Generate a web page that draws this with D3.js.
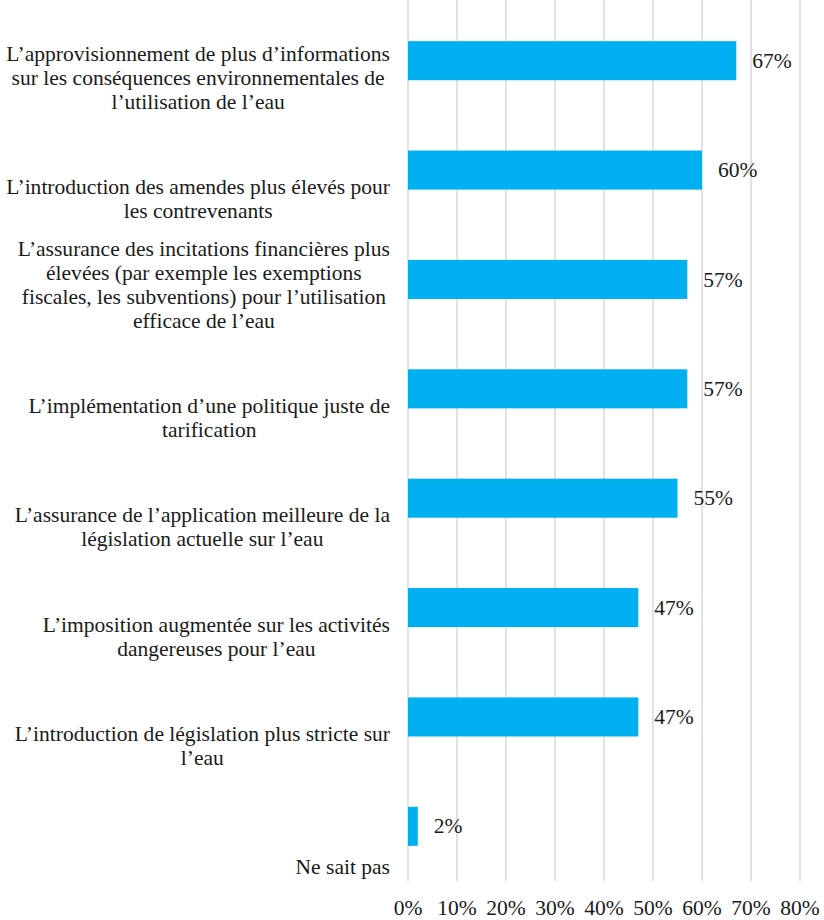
<!DOCTYPE html>
<html>
<head>
<meta charset="utf-8">
<script src="https://cdn.jsdelivr.net/npm/d3@7"></script>
</head>
<body style="margin:0">
<script>
// Categories (each as wrapped lines) and their shares
const categories = [
  ["L’approvisionnement de plus d’informations", "sur les conséquences environnementales de", "l’utilisation de l’eau"],
  ["L’introduction des amendes plus élevés pour", "les contrevenants"],
  ["L’assurance des incitations financières plus", "élevées (par exemple les exemptions", "fiscales, les subventions) pour l’utilisation", "efficace de l’eau"],
  ["L’implémentation d’une politique juste de", "tarification"],
  ["L’assurance de l’application meilleure de la", "législation actuelle sur l’eau"],
  ["L’imposition augmentée sur les activités", "dangereuses pour l’eau"],
  ["L’introduction de législation plus stricte sur", "l’eau"],
  ["Ne sait pas"]
];
const values = [67, 60, 57, 57, 55, 47, 47, 2];
const tickValues = [0, 10, 20, 30, 40, 50, 60, 70, 80];

const FONT = '"Times New Roman"';
const W = 824, H = 920;
const margin = { top: 6, right: 24, bottom: 39, left: 408 };

const svg = d3.select("body").append("svg")
  .attr("width", W).attr("height", H)
  .style("display", "block");

// size the type so the first category line spans about 384px
const probe = svg.append("text").style("font-family", FONT).attr("font-size", 20).text(categories[0][0]);
const FS = Math.max(18, Math.min(22, 20 * 384 / probe.node().getComputedTextLength()));
probe.remove();

const x = d3.scaleLinear().domain([0, 80]).range([margin.left, W - margin.right]);
const y = d3.scaleBand()
  .domain(d3.range(categories.length))
  .range([margin.top, H - margin.bottom])
  .paddingInner(0.643).paddingOuter(0.3215);

// places a text line; baseline offset gives a visual vertical centre at cy
function addText(parent, str, cy) {
  return parent.append("text")
    .style("font-family", FONT)
    .attr("font-size", FS)
    .attr("fill", "#1a1a1a")
    .attr("y", cy + FS * 0.33)
    .text(str);
}

// vertical gridlines
svg.append("g")
  .selectAll("line")
  .data(tickValues)
  .join("line")
  .attr("x1", d => x(d)).attr("x2", d => x(d))
  .attr("y1", 0).attr("y2", H - margin.bottom)
  .attr("stroke", "#d9d9d9").attr("stroke-width", 1.5);

// tick labels, centred under each gridline
const tg = svg.append("g");
tickValues.forEach(v => {
  const t = addText(tg, v + "%", H - 12);
  t.attr("x", x(v) - t.node().getComputedTextLength() / 2);
});

// bars
svg.append("g")
  .selectAll("rect")
  .data(values)
  .join("rect")
  .attr("x", x(0))
  .attr("y", (d, i) => y(i))
  .attr("width", d => x(d) - x(0))
  .attr("height", y.bandwidth())
  .attr("fill", "#00b0f0");

// value labels
const vg = svg.append("g");
values.forEach((v, i) => {
  addText(vg, v + "%", y(i) + y.bandwidth() / 2).attr("x", x(v) + 16);
});

// category labels: block right-aligned to the axis, lines centred inside the block,
// last line sitting below the bar centre
const lineH = 24;
const labelRight = 390;
categories.forEach((lines, i) => {
  const g = svg.append("g");
  const bottomY = y(i) + y.bandwidth() / 2 + 41;
  const texts = lines.map((t, k) => addText(g, t, bottomY - (lines.length - 1 - k) * lineH));
  const widths = texts.map(t => t.node().getComputedTextLength());
  const maxW = d3.max(widths);
  texts.forEach((t, k) => t.attr("x", labelRight - maxW / 2 - widths[k] / 2));
});
</script>
</body>
</html>
